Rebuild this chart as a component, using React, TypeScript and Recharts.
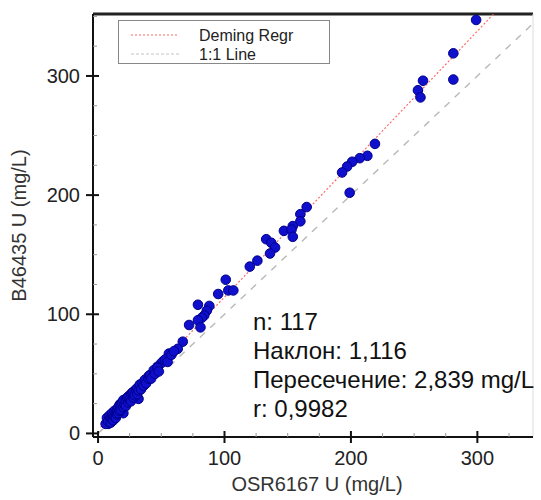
import { ReferenceLine, Scatter, ScatterChart, XAxis, YAxis } from 'recharts';

const FONT = 'Liberation Sans, Arial, sans-serif';

// OSR6167 U vs B46435 U (mg/L)
const highPoints = [
  [299, 347], [281, 319], [281, 297], [257, 296], [253, 288], [255, 282],
  [219, 243], [213, 233], [207, 231], [201, 228], [197, 224], [193, 219],
  [199, 202], [165, 190], [160, 184], [160, 178], [154, 174], [147, 170],
  [153, 171], [154, 165], [133, 163], [137, 160], [140, 156], [136, 151],
  [126, 145], [120, 140], [101, 129], [103, 120], [107, 120], [95, 117],
];

const midPoints = [
  [79, 108], [88, 107], [86, 103], [84, 99], [82, 97], [79, 95], [81, 89],
  [72, 91], [67, 77], [63, 71], [56, 67], [52, 61], [50, 59], [47, 56],
  [43, 50], [40, 48], [36, 43], [33, 39], [29, 35], [25, 30], [21, 26],
  [19, 22], [15, 19], [12, 15], [10, 11], [8, 8], [32, 29], [20, 17],
];

const lowPoints = [
  [6, 8], [7, 13], [8, 10], [9, 15], [10, 13], [10, 9], [11, 12], [11, 17],
  [12, 15], [12, 11], [13, 19], [13, 14], [14, 17], [14, 13], [15, 20], [15, 16],
  [16, 22], [16, 17], [17, 19], [17, 24], [18, 20], [18, 25], [19, 26], [20, 22],
  [20, 28], [21, 24], [22, 28], [22, 23], [23, 30], [24, 26], [24, 31], [25, 28],
  [26, 33], [26, 27], [27, 34], [28, 30], [28, 35], [29, 32], [30, 37], [31, 33],
  [31, 38], [32, 36], [33, 41], [34, 37], [35, 42], [36, 40], [37, 45], [38, 42],
  [40, 46], [41, 49], [42, 46], [44, 53], [45, 50], [47, 55], [48, 52], [53, 62],
  [55, 60], [58, 66], [60, 69],
];

const SLOPE = 1.116;
const INTERCEPT = 2.839;
const X_DOMAIN = [-4, 344];
const Y_DOMAIN = [-3, 352];
const xTicks = [0, 25, 50, 75, 100, 125, 150, 175, 200, 225, 250, 275, 300, 325];
const yTicks = [0, 25, 50, 75, 100, 125, 150, 175, 200, 225, 250, 275, 300, 325, 350];
const statLines = ['n: 117', 'Наклон: 1,116', 'Пересечение: 2,839 mg/L', 'r: 0,9982'];

const points = [...highPoints, ...midPoints, ...lowPoints].map(([x, y]) => ({ x, y }));
const regXEnd = (Y_DOMAIN[1] - INTERCEPT) / SLOPE;
const regLine = [
  { x: 2, y: INTERCEPT + SLOPE * 2 },
  { x: regXEnd, y: Y_DOMAIN[1] },
];
const identityLine = [
  { x: 0, y: 0 },
  { x: X_DOMAIN[1], y: X_DOMAIN[1] },
];

const Dot = (props: any) => {
  const { cx, cy } = props;
  return <circle cx={cx} cy={cy} r={4.8} fill="#1010cc" stroke="#00008b" strokeWidth={1} />;
};

const NoDot = () => <g />;

const XTick = ({ x, y, payload }: any) => {
  const v = payload.value;
  if (v % 100 !== 0) {
    return <line x1={x} x2={x} y1={y - 4} y2={y} stroke="#999" />;
  }
  return (
    <g>
      <line x1={x} x2={x} y1={y - 6} y2={y + 6} stroke="#111" strokeWidth={2} />
      <text x={x} y={y + 28} textAnchor="middle" fontSize={20} fontFamily={FONT} fill="#222">
        {v}
      </text>
    </g>
  );
};

const YTick = ({ x, y, payload }: any) => {
  const v = payload.value;
  if (v % 100 !== 0) {
    return <line x1={x} x2={x + 4} y1={y} y2={y} stroke="#999" />;
  }
  return (
    <g>
      <line x1={x - 7} x2={x + 6} y1={y} y2={y} stroke="#111" strokeWidth={2} />
      <text x={x - 13} y={y} dy={7} textAnchor="end" fontSize={20} fontFamily={FONT} fill="#222">
        {v}
      </text>
    </g>
  );
};

const XTitle = ({ viewBox }: any) => (
  <text
    x={viewBox.x + viewBox.width / 2 + 4}
    y={viewBox.y + 54}
    textAnchor="middle"
    fontSize={20}
    fontFamily={FONT}
    fill="#333"
  >
    OSR6167 U (mg/L)
  </text>
);

const YTitle = ({ viewBox }: any) => {
  const cx = viewBox.x + 19;
  const cy = viewBox.y + viewBox.height / 2;
  return (
    <text
      x={cx}
      y={cy}
      transform={`rotate(-90, ${cx}, ${cy})`}
      textAnchor="middle"
      dominantBaseline="central"
      fontSize={20}
      fontFamily={FONT}
      fill="#333"
    >
      B46435 U (mg/L)
    </text>
  );
};

const LegendBox = () => (
  <div
    style={{
      position: 'absolute',
      left: 118,
      top: 20,
      width: 210,
      height: 42,
      border: '1px solid #888',
      background: '#fff',
    }}
  >
    <svg width={210} height={42} style={{ position: 'absolute', left: 0, top: 0 }}>
      <line x1={12} x2={60} y1={14} y2={14} stroke="#ff6a6a" strokeWidth={1.2} strokeDasharray="2 2" />
      <line x1={12} x2={60} y1={33} y2={33} stroke="#c4c4c4" strokeWidth={1.2} strokeDasharray="3 2" />
      <text x={80} y={20} fontSize={16} fontFamily={FONT} fill="#222">Deming Regr</text>
      <text x={80} y={39} fontSize={16} fontFamily={FONT} fill="#222">1:1 Line</text>
    </svg>
  </div>
);

const Stats = () => (
  <div
    style={{
      position: 'absolute',
      left: 253,
      top: 307,
      fontFamily: FONT,
      fontSize: 24,
      lineHeight: '29px',
      color: '#111',
      whiteSpace: 'nowrap',
    }}
  >
    {statLines.map((s) => (
      <div key={s}>{s}</div>
    ))}
  </div>
);

export default function App() {
  return (
    <div style={{ position: 'absolute', left: 0, top: 0, width: 541, height: 500, background: '#fff' }}>
      <ScatterChart width={541} height={500} margin={{ top: 14, right: 8, bottom: 0, left: 0 }}>
        <XAxis
          type="number"
          dataKey="x"
          domain={X_DOMAIN}
          allowDataOverflow
          ticks={xTicks}
          interval={0}
          height={63}
          tickSize={0}
          tickMargin={0}
          tick={<XTick />}
          axisLine={{ stroke: '#111', strokeWidth: 2 }}
          label={<XTitle />}
        />
        <YAxis
          type="number"
          dataKey="y"
          domain={Y_DOMAIN}
          allowDataOverflow
          ticks={yTicks}
          interval={0}
          width={93}
          tickSize={0}
          tickMargin={0}
          tick={<YTick />}
          axisLine={{ stroke: '#111', strokeWidth: 2 }}
          label={<YTitle />}
        />
        <ReferenceLine y={Y_DOMAIN[1]} stroke="#222" strokeWidth={3} />
        <ReferenceLine x={X_DOMAIN[1]} stroke="#ddd" strokeWidth={1} />
        <Scatter
          data={identityLine}
          line={{ stroke: '#b8b8b8', strokeWidth: 1.4, strokeDasharray: '7 7' }}
          shape={<NoDot />}
          isAnimationActive={false}
        />
        <Scatter
          data={regLine}
          line={{ stroke: '#ff6a6a', strokeWidth: 1.2, strokeDasharray: '2 2' }}
          shape={<NoDot />}
          isAnimationActive={false}
        />
        <Scatter data={points} shape={<Dot />} isAnimationActive={false} />
      </ScatterChart>
      <LegendBox />
      <Stats />
    </div>
  );
}
